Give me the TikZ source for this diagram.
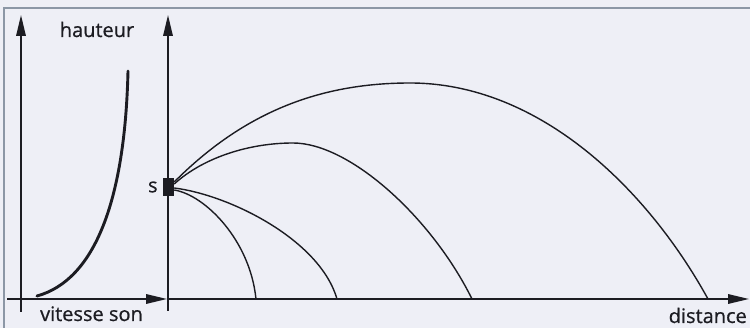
\documentclass[tikz,border=0pt]{standalone}
\usepackage{fontspec}
\setmainfont{Open Sans}[FakeBold=0.7]
\usetikzlibrary{arrows.meta,positioning}
\definecolor{ink}{HTML}{1C1C22}
\definecolor{paper}{HTML}{EEEFF6}
\definecolor{rim}{HTML}{8C97A6}
\tikzset{axisline/.style={draw=ink,line width=1.7pt,-{Triangle[length=21pt,width=9.5pt]}},trajline/.style={draw=ink,line width=1.4pt},speedcurve/.style={draw=ink,line width=2.9pt,line cap=round},axislabel/.style={font=\fontsize{20}{22}\selectfont,text=ink,inner sep=1pt}}

\begin{document}
\begin{tikzpicture}[x=1pt,y=-1pt]
\fill[paper] (0,0) rectangle (750,328);
\useasboundingbox (0,0) rectangle (750,328);
\draw[rim,line width=1.5pt] (4,328)--(4,8)--(750,8);
% axes
\coordinate (vL0) at (21,312); \coordinate (vL1) at (21,15);
\coordinate (vM0) at (168,311); \coordinate (vM1) at (168,15);
\coordinate (hL0) at (7,299); \coordinate (hL1) at (167,299);
\coordinate (hR0) at (168,299); \coordinate (hR1) at (749,299);
\draw[axisline] (vL0)--(vL1);
\draw[axisline] (vM0)--(vM1);
\draw[axisline] (hL0)--(hL1);
\draw[axisline] (hR0)--(hR1);
% speed of sound against height
\coordinate (c0) at (37,296); \coordinate (c1) at (128,71);
\draw[speedcurve] (c0) .. controls (95,280) and (125,200) .. (c1);
% source and rays
\node[fill=ink,minimum width=11pt,minimum height=18pt,inner sep=0pt] (S) at (168.5,187) {};
\node[axislabel,left=4pt of S] (sl) {s};
\coordinate (p1) at (410,83); \coordinate (p2) at (293,143);
\coordinate (g1) at (708,299); \coordinate (g2) at (472,299);
\coordinate (g3) at (337,299); \coordinate (g4) at (256,299);
\draw[trajline] ([yshift=5pt]S.east) .. controls (244,112) and (320,83) .. (p1) .. controls (540,83) and (648,190) .. (g1);
\draw[trajline] ([yshift=3pt]S.east) .. controls (204,157) and (250,143) .. (p2) .. controls (350,143) and (432,218) .. (g2);
\draw[trajline] ([yshift=-1pt]S.east) .. controls (230,195) and (320,240) .. (g3);
\draw[trajline] ([yshift=-3pt]S.east) .. controls (205,195) and (250,240) .. (g4);
% labels
\node[axislabel,anchor=base] (ht) at (97,37) {hauteur};
\node[axislabel,anchor=base] (vs) at (91.5,321) {vitesse son};
\node[axislabel,anchor=base east] (ds) at (748,323) {distance};
\end{tikzpicture}
\end{document}
